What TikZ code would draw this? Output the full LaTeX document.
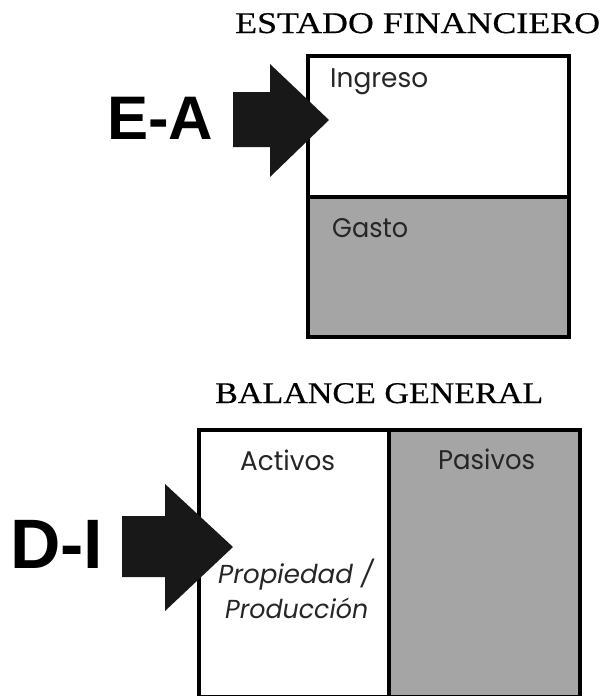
\documentclass[tikz,border=0pt]{standalone}
\usepackage{fontspec}
\usepackage{graphicx}
\setmainfont{Liberation Serif}
\newfontfamily\headfont[FakeBold=0.4]{Liberation Serif}
\newfontfamily\labelfont{Poppins}
\newfontfamily\tagfont{Liberation Sans}
\definecolor{cellgray}{RGB}{165,165,165}
\definecolor{arrowblack}{RGB}{24,24,24}
% stretch a piece of text horizontally to a given width, keeping its height
\newcommand{\fitto}[2]{\resizebox{#1}{\height}{#2}}

\begin{document}
\begin{tikzpicture}[x=1pt,y=-1pt,
  cell/.style={draw=black, line width=3.5pt, inner sep=0pt, anchor=north west},
  lbl/.style={anchor=base west, inner sep=0pt, text=black!85,
              font=\labelfont\fontsize{27}{30}\selectfont},
  heading/.style={anchor=base west, inner sep=0pt,
              font=\headfont\fontsize{30}{34}\selectfont},
  tag/.style={anchor=base west, inner sep=0pt, font=\tagfont\bfseries},
  bigarrow/.style={fill=arrowblack}]
\useasboundingbox (0,0) rectangle (603,696);

% Estado financiero
\node[heading] (efTitle) at (235,33) {\fitto{365pt}{ESTADO FINANCIERO}};
\node[cell, fill=white, minimum width=261pt, minimum height=141pt] (income) at (306,54) {};
\node[cell, fill=cellgray, minimum width=261pt, minimum height=140pt] (expense) at (306,195) {};
\node[lbl] (ingreso) at (330,87) {\fitto{98pt}{Ingreso}};
\node[lbl] (gasto) at (332,237) {\fitto{76pt}{Gasto}};

\fill[bigarrow] (233,92) -- (270,92) -- (270,64) -- (329,120) -- (270,177)
  -- (270,147) -- (233,147) -- cycle;
\node[tag, font=\tagfont\bfseries\fontsize{61.5}{64}\selectfont] (ea) at (107,139)
  {\fitto{106pt}{E-A}};

% Balance general
\node[heading] (bgTitle) at (215,403) {\fitto{328pt}{BALANCE GENERAL}};
\node[cell, fill=white, minimum width=190pt, minimum height=266.5pt] (assets) at (197,428) {};
\node[cell, fill=cellgray, minimum width=191pt, minimum height=266.5pt] (liabilities) at (387,428) {};
\node[lbl] (activos) at (240,470) {\fitto{95pt}{Activos}};
\node[lbl] (pasivos) at (438,469) {\fitto{97pt}{Pasivos}};
\node[lbl, font=\labelfont\itshape\fontsize{26}{30}\selectfont] (propiedad) at (218,583)
  {\fitto{155pt}{Propiedad /}};
\node[lbl, font=\labelfont\itshape\fontsize{26}{30}\selectfont] (produccion) at (225,618)
  {\fitto{143pt}{Producción}};

\fill[bigarrow] (122,516) -- (165,516) -- (165,484) -- (233,547) -- (165,611)
  -- (165,577) -- (122,577) -- cycle;
\node[tag, font=\tagfont\bfseries\fontsize{70}{72}\selectfont] (di) at (10,568)
  {\fitto{93pt}{D-I}};
\end{tikzpicture}
\end{document}
